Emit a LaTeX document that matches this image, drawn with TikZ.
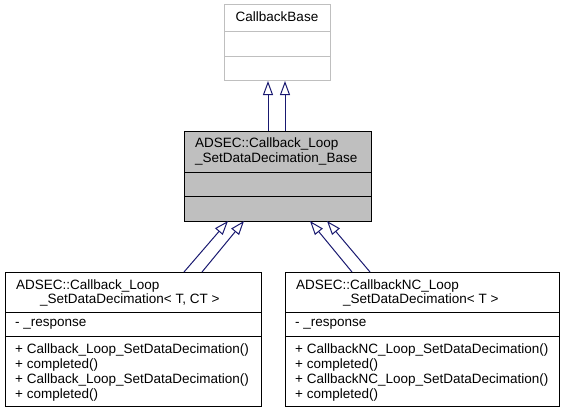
\documentclass[tikz,border=0pt]{standalone}
\usepackage{fontspec}
\setmainfont{Liberation Sans}
\usetikzlibrary{arrows.meta,calc}
\definecolor{edgeblue}{HTML}{191970}
\definecolor{midgray}{HTML}{BFBFBF}
\definecolor{lightborder}{HTML}{BFBFBF}
\tikzset{
  classbox/.style={draw=black, line width=1pt, anchor=north west, inner sep=0pt, outer sep=0pt},
  txt/.style={anchor=base west, inner sep=0pt, font=\fontsize{13.5}{15}\selectfont},
  inh/.style={draw=edgeblue, line width=1pt, -{Triangle[open, length=14pt, width=10pt, fill=white]}},
}
\begin{document}
\begin{tikzpicture}[x=1pt, y=-1pt]
\useasboundingbox (0,0) rectangle (565,412);
% CallbackBase
\node[classbox, draw=lightborder, minimum width=106pt, minimum height=76pt] (base) at (224,5) {};
\draw[lightborder, line width=1pt] (224,32) -- (330,32) (224,57) -- (330,57);
\node[anchor=base, inner sep=0pt, font=\fontsize{13.5}{15}\selectfont] (basetitle) at (277,22) {CallbackBase};
% middle
\node[classbox, fill=midgray, minimum width=187pt, minimum height=90pt] (mid) at (184,131) {};
\draw[line width=1pt] (184,172) -- (371,172) (184,196) -- (371,196);
\node[txt] (midt1) at (195,147) {ADSEC::Callback\_Loop};
\node[txt] (midt2) at (195,162) {\_SetDataDecimation\_Base};
% left
\node[classbox, fill=white, minimum width=256pt, minimum height=134pt] (left) at (5,272) {};
\draw[line width=1pt] (5,312) -- (261,312) (5,336) -- (261,336);
\node[txt] (lt1) at (16,289) {ADSEC::Callback\_Loop};
\node[txt] (lt2) at (40,303) {\_SetDataDecimation< T, CT >};
\node[txt] (la1) at (15,326) {- \_response};
\node[txt] (lm1) at (15,353) {+ Callback\_Loop\_SetDataDecimation()};
\node[txt] (lm2) at (15,368) {+ completed()};
\node[txt] (lm3) at (15,383) {+ Callback\_Loop\_SetDataDecimation()};
\node[txt] (lm4) at (15,398) {+ completed()};
% right
\node[classbox, fill=white, minimum width=274pt, minimum height=134pt] (right) at (285,272) {};
\draw[line width=1pt] (285,312) -- (559,312) (285,336) -- (559,336);
\node[txt] (rt1) at (296,289) {ADSEC::CallbackNC\_Loop};
\node[txt] (rt2) at (343,303) {\_SetDataDecimation< T >};
\node[txt] (ra1) at (295,326) {- \_response};
\node[txt] (rm1) at (295,353) {+ CallbackNC\_Loop\_SetDataDecimation()};
\node[txt] (rm2) at (295,368) {+ completed()};
\node[txt] (rm3) at (295,383) {+ CallbackNC\_Loop\_SetDataDecimation()};
\node[txt] (rm4) at (295,398) {+ completed()};
% edges
\draw[inh] ($(mid.north west)+(84,0)$) -- ($(base.south west)+(44,0)$);
\draw[inh] ($(mid.north west)+(101,0)$) -- ($(base.south west)+(61,0)$);
\draw[inh] ($(left.north west)+(179,0)$) -- ($(mid.south west)+(44,0)$);
\draw[inh] ($(left.north west)+(197,0)$) -- ($(mid.south west)+(60,0)$);
\draw[inh] ($(right.north west)+(67,0)$) -- ($(mid.south west)+(126,0)$);
\draw[inh] ($(right.north west)+(85,0)$) -- ($(mid.south west)+(143,0)$);
\end{tikzpicture}
\end{document}
